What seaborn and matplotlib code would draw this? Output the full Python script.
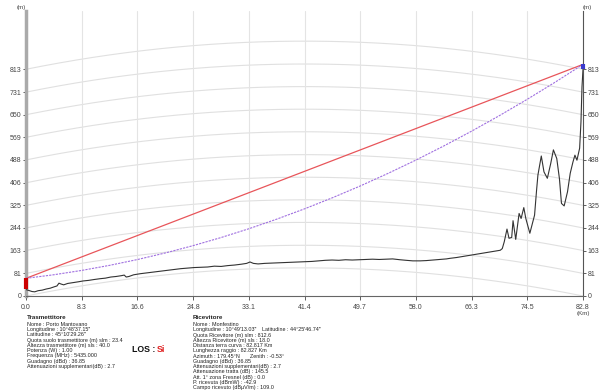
import matplotlib
matplotlib.use("Agg")
import matplotlib.pyplot as plt
import seaborn as sns
import numpy as np
import pandas as pd

# ---------------- data ----------------
x_ticks = [0.0, 8.28, 16.56, 24.84, 33.12, 41.4, 49.68, 57.96, 66.24, 74.52, 82.8]
x_tick_labels = ["0.0", "8.3", "16.6", "24.8", "33.1", "41.4", "49.7", "58.0", "66.3", "74.5", "82.8"]
y_ticks = [0, 81, 163, 244, 325, 406, 488, 569, 650, 731, 813]

terrain_km = [0.0, 0.4, 0.9, 1.3, 1.8, 2.4, 3.0, 3.6, 4.2, 4.6, 4.9, 5.2, 5.6, 6.2, 7.0, 7.8,
              8.5, 9.3, 10.1, 11.0, 11.8, 12.6, 13.4, 14.2, 14.6, 14.9, 15.3, 16.0, 17.0, 18.0,
              19.0, 20.0, 21.0, 22.0, 23.0, 24.0, 25.0, 26.0, 27.0, 28.0, 29.0, 30.0, 31.0,
              32.0, 32.8, 33.3, 33.8, 34.5, 35.5, 36.5, 37.5, 38.5, 39.5, 40.5, 41.5, 42.5,
              43.5, 44.5, 45.5, 46.5, 47.5, 48.5, 49.5, 50.5, 51.5, 52.5, 53.5, 54.5, 55.6,
              56.5, 57.5, 58.6, 59.5, 60.5, 61.5, 62.5, 63.0, 64.0, 65.0, 66.0, 67.0, 68.0,
              69.0, 70.0, 70.5, 70.8, 71.1, 71.5, 71.8, 72.2, 72.4, 72.8, 73.3, 73.6, 74.0,
              74.3, 74.9, 75.6, 75.9, 76.1, 76.6, 77.0, 77.5, 78.0, 78.4, 78.9, 79.3, 79.6,
              80.0, 80.5, 80.9, 81.3, 81.6, 81.9, 82.3, 82.5, 82.65, 82.8]
terrain_m = [23, 20, 16, 15, 19, 21, 25, 28, 33, 36, 46, 43, 40, 45, 48, 51,
             54, 56, 59, 62, 64, 68, 70, 73, 75, 68, 70, 76, 80, 83,
             86, 89, 92, 95, 98, 100, 102, 103, 104, 107, 106, 109, 111,
             114, 117, 122, 117, 115, 117, 118, 119, 120, 121, 122, 123, 124,
             126, 128, 129, 128, 130, 129, 130, 131, 132, 131, 132, 133, 130,
             128, 126, 126, 127, 129, 131, 133, 135, 138, 142, 146, 150, 154,
             158, 162, 164, 170, 195, 240, 207, 210, 270, 203, 296, 278, 317,
             278, 225, 290, 380, 434, 502, 445, 422, 475, 524, 493, 420, 332,
             323, 374, 440, 480, 505, 487, 530, 625, 750, 812.6]

los_km = [0.0, 82.8]
los_m = [63.4, 830.6]

ray_km = [0.0, 4.14, 8.28, 12.42, 16.56, 20.7, 24.84, 28.98, 33.12, 37.26, 41.4,
          45.54, 49.68, 53.82, 57.96, 62.1, 66.24, 70.38, 74.52, 78.66, 82.8]
ray_m = [63.4, 76.2, 91.7, 109.9, 130.7, 154.3, 180.6, 209.5, 241.1, 275.5, 312.5,
         352.2, 394.5, 439.7, 487.4, 537.9, 591.1, 646.9, 705.5, 766.7, 830.6]

tx_mast_m = [23.4, 63.4]
rx_mast_m = [812.6, 830.6]

tx_lines = ["Nome : Porto Mantovano",
            "Longitudine : 10°48'37.15\"",
            "Latitudine : 45°10'29.26\"",
            "Quota suolo trasmettitore (m) slm : 23.4",
            "Altezza trasmettitore (m) sls : 40.0",
            "Potenza (W) : 1.00",
            "Frequenza (MHz) : 5435.000",
            "Guadagno (dBd) : 36.85",
            "Attenuazioni supplementari(dB) : 2.7"]
rx_lines = ["Nome : Monfestino",
            "Longitudine : 10°49'13.03\"",
            "Quota Ricevitore (m) slm : 812.6",
            "Altezza Ricevitore (m) sls : 18.0",
            "Distanza terra curva : 82.817 Km",
            "Lunghezza raggio : 82.827 Km",
            "Azimuth : 179.45°N",
            "Guadagno (dBd) : 36.85",
            "Attenuazioni supplementari(dB) : 2.7",
            "Attenuazione tratta (dB) : 145.5",
            "Att. 1° zona Fresnel (dB) : 0.0",
            "P. ricevuta (dBmW) : -42.9",
            "Campo ricevuto (dBµV/m) : 109.0"]
rx_extra = {1: "Latitudine : 44°25'46.74\"", 6: "Zenith : -0.53°"}

# ---------------- figure ----------------
sns.set_style("white")
plt.rcParams['font.family'] = ['Liberation Sans', 'DejaVu Sans']

W, H = 600, 390
fig = plt.figure(figsize=(6, 3.9), dpi=100)
ax = fig.add_axes([26 / W, (H - 296) / H, 557 / W, 285 / H])
D = x_ticks[-1]
ax.set_xlim(0, D)
ax.set_ylim(0, 1022)

# earth-curvature grid (k = 4/3)
xx = np.linspace(0, D, 200)
bulge = xx * (D - xx) / 16.986
for h in y_ticks:
    ax.plot(xx, h + bulge, color='#e0e0e0', lw=0.8, zorder=1)
for xt in x_ticks[1:-1]:
    ax.axvline(xt, color='#e4e4e4', lw=0.8, zorder=1)

df_t = pd.DataFrame({"km": terrain_km, "m": terrain_m})
df_l = pd.DataFrame({"km": los_km, "m": los_m})
df_r = pd.DataFrame({"km": ray_km, "m": ray_m})

sns.lineplot(data=df_l, x="km", y="m", ax=ax, color='#e8555a', lw=0.9, zorder=3)
sns.lineplot(data=df_r, x="km", y="m", ax=ax, color='#a070e0', lw=0.8,
             linestyle=(0, (2, 1)), zorder=3)
sns.lineplot(data=df_t, x="km", y="m", ax=ax, color='#333333', lw=0.8, zorder=4)

ax.plot([0, 0], tx_mast_m, color='#cc0000', lw=3, solid_capstyle='butt', zorder=5, clip_on=False)
ax.plot([D, D], rx_mast_m, color='#3a3acc', lw=3, solid_capstyle='butt', zorder=5, clip_on=False)

ax.set_xlabel("")
ax.set_ylabel("")
ax.set_xticks(x_ticks)
ax.set_xticklabels(x_tick_labels)
ax.set_yticks(y_ticks)
ax.set_yticklabels([str(v) for v in y_ticks])
ax.tick_params(axis='y', left=True, right=True, labelleft=True, labelright=True,
               length=2, width=0.6, pad=1.5, labelsize=5, colors='#444444')
ax.tick_params(axis='x', bottom=True, length=3, width=0.6, pad=2.5, labelsize=5, colors='#444444')

ax.spines['top'].set_visible(False)
ax.spines['left'].set_color('#aaaaaa')
ax.spines['left'].set_linewidth(2.5)
ax.spines['right'].set_color('#555555')
ax.spines['right'].set_linewidth(0.8)
ax.spines['bottom'].set_color('#666666')
ax.spines['bottom'].set_linewidth(0.8)


def P(x, y):
    return x / W, 1 - y / H


fig.text(*P(21, 7), "(m)", fontsize=4.5, color='#444444', ha='center', va='center')
fig.text(*P(587, 7), "(m)", fontsize=4.5, color='#444444', ha='center', va='center')
fig.text(*P(583, 313), "(Km)", fontsize=4.5, color='#444444', ha='center', va='center')

fs = 3.9
dy = 5.25
fig.text(*P(27, 317.5), "Trasmettitore", fontsize=4.5, fontweight='bold', color='#222222', va='center')
for i, s in enumerate(tx_lines):
    fig.text(*P(27, 324.5 + i * dy), s, fontsize=fs, color='#222222', va='center')

fig.text(*P(193, 317.5), "Ricevitore", fontsize=4.5, fontweight='bold', color='#222222', va='center')
for i, s in enumerate(rx_lines):
    fig.text(*P(193, 324.5 + i * dy), s, fontsize=fs, color='#222222', va='center')
for i, s in rx_extra.items():
    x0 = 262 if i == 1 else 250
    fig.text(*P(x0, 324.5 + i * dy), s, fontsize=fs, color='#222222', va='center')

fig.text(*P(132, 349), "LOS :", fontsize=6.3, fontweight='bold', color='#111111', va='center')
fig.text(*P(157, 349), "Si", fontsize=6.3, fontweight='bold', color='#e02020', va='center')

fig.savefig("out.png", dpi=100)
